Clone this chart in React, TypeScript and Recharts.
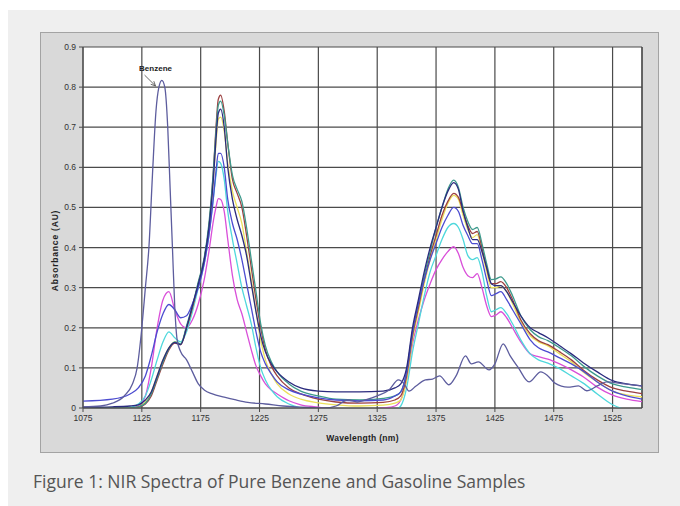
import React from "react";
import { LineChart, Line, XAxis, YAxis, CartesianGrid, ReferenceLine } from "recharts";

// wavelength grid shared by the gasoline samples (nm)
const WL = [
  1075, 1100, 1115, 1122, 1128, 1133, 1138, 1143, 1148, 1153,
  1158, 1163, 1168, 1173, 1178, 1182, 1186, 1188, 1190, 1192,
  1195, 1198, 1202, 1206, 1210, 1214, 1218, 1222, 1226, 1230,
  1235, 1240, 1250, 1260, 1275, 1290, 1310, 1330, 1340, 1345,
  1350, 1355, 1360, 1365, 1370, 1375, 1380, 1385, 1390, 1394,
  1398, 1402, 1406, 1410, 1414, 1418, 1422, 1426, 1430, 1435,
  1440, 1447, 1455, 1462, 1470, 1480, 1490, 1500, 1512, 1525,
  1537, 1550,
];

const MAGENTA = [
  0, 0, 0, 0.005, 0.03, 0.1, 0.2, 0.27, 0.29, 0.245,
  0.21, 0.2, 0.22, 0.26, 0.32, 0.39, 0.47, 0.5, 0.522, 0.52,
  0.49, 0.42, 0.33, 0.27, 0.235, 0.19, 0.145, 0.105, 0.08, 0.06,
  0.045, 0.035, 0.018, 0.008, 0.002, -0.005, -0.005, 0, 0.005, 0.02,
  0.07, 0.16, 0.22, 0.27, 0.31, 0.345, 0.37, 0.39, 0.402, 0.385,
  0.35, 0.33, 0.325, 0.335, 0.3, 0.255, 0.228, 0.232, 0.24, 0.225,
  0.2, 0.165, 0.135, 0.128, 0.122, 0.11, 0.095, 0.078, 0.052, 0.032,
  0.022, 0.016,
];

const BLUE = [
  0.017, 0.022, 0.035, 0.05, 0.08, 0.13, 0.19, 0.235, 0.258, 0.245,
  0.225, 0.23, 0.26, 0.3, 0.36, 0.43, 0.53, 0.59, 0.635, 0.635,
  0.6, 0.52, 0.46, 0.42, 0.37, 0.31, 0.25, 0.19, 0.14, 0.11,
  0.085, 0.065, 0.045, 0.035, 0.025, 0.02, 0.018, 0.02, 0.03, 0.04,
  0.09, 0.19, 0.26, 0.32, 0.37, 0.41, 0.45, 0.48, 0.5, 0.49,
  0.455, 0.43, 0.41, 0.41, 0.37, 0.32, 0.28, 0.285, 0.29, 0.27,
  0.245, 0.21, 0.17, 0.15, 0.14, 0.125, 0.11, 0.092, 0.065, 0.042,
  0.03, 0.022,
];

const CYAN = [
  0, 0, 0.002, 0.01, 0.03, 0.07, 0.12, 0.165, 0.19, 0.175,
  0.165, 0.19, 0.24, 0.3, 0.36, 0.43, 0.53, 0.58, 0.615, 0.61,
  0.57, 0.49, 0.42, 0.36, 0.3, 0.255, 0.21, 0.15, 0.1, 0.07,
  0.045, 0.028, 0.01, 0, -0.01, -0.015, -0.015, -0.01, -0.005, 0.005,
  0.05, 0.14, 0.21, 0.28, 0.34, 0.38, 0.42, 0.45, 0.46, 0.45,
  0.42, 0.38, 0.37, 0.375, 0.34, 0.28, 0.24, 0.245, 0.25, 0.235,
  0.21, 0.17, 0.135, 0.12, 0.112, 0.098, 0.08, 0.062, 0.035, 0.008,
  -0.005, -0.01,
];

const YELLOW = [
  0, 0, 0, 0.003, 0.015, 0.04, 0.08, 0.12, 0.15, 0.165,
  0.16, 0.2, 0.25, 0.31, 0.37, 0.45, 0.58, 0.66, 0.72, 0.725,
  0.69, 0.61, 0.54, 0.5, 0.46, 0.39, 0.32, 0.24, 0.17, 0.12,
  0.085, 0.06, 0.035, 0.022, 0.013, 0.008, 0.005, 0.007, 0.012, 0.02,
  0.07, 0.17, 0.24, 0.31, 0.37, 0.42, 0.47, 0.51, 0.53, 0.52,
  0.48, 0.445, 0.425, 0.432, 0.39, 0.34, 0.3, 0.3, 0.305, 0.29,
  0.26, 0.215, 0.18, 0.165, 0.155, 0.135, 0.115, 0.09, 0.065, 0.042,
  0.033, 0.028,
];

const BROWN = [
  0, 0, 0, 0.002, 0.01, 0.03, 0.07, 0.11, 0.145, 0.162,
  0.158, 0.2, 0.25, 0.31, 0.37, 0.45, 0.6, 0.7, 0.77, 0.78,
  0.74, 0.66, 0.57, 0.535, 0.5, 0.43, 0.35, 0.27, 0.2, 0.145,
  0.105, 0.08, 0.05, 0.035, 0.022, 0.015, 0.012, 0.014, 0.02, 0.03,
  0.08, 0.18, 0.25, 0.32, 0.38, 0.43, 0.48, 0.515, 0.535, 0.525,
  0.49, 0.455, 0.435, 0.44, 0.4, 0.35, 0.31, 0.31, 0.315, 0.3,
  0.27, 0.22, 0.185, 0.168, 0.158, 0.14, 0.12, 0.095, 0.07, 0.05,
  0.042, 0.036,
];

const TEAL = [
  0, 0, 0, 0.003, 0.012, 0.035, 0.075, 0.115, 0.148, 0.165,
  0.16, 0.205, 0.255, 0.315, 0.375, 0.46, 0.6, 0.69, 0.755, 0.765,
  0.73, 0.66, 0.58, 0.545, 0.515, 0.45, 0.37, 0.29, 0.21, 0.155,
  0.115, 0.09, 0.06, 0.042, 0.03, 0.022, 0.02, 0.024, 0.03, 0.04,
  0.09, 0.19, 0.26, 0.33, 0.39, 0.45, 0.5, 0.545, 0.568, 0.55,
  0.5, 0.465, 0.445, 0.45, 0.41, 0.36, 0.32, 0.322, 0.327, 0.31,
  0.28, 0.23, 0.195, 0.178, 0.168, 0.15, 0.13, 0.105, 0.08, 0.06,
  0.052, 0.046,
];

const NAVY = [
  0.002, 0.003, 0.005, 0.008, 0.02, 0.04, 0.08, 0.12, 0.15, 0.163,
  0.158, 0.2, 0.255, 0.31, 0.37, 0.45, 0.58, 0.67, 0.735, 0.745,
  0.7, 0.6, 0.52, 0.47, 0.43, 0.38, 0.31, 0.24, 0.18, 0.14,
  0.11, 0.09, 0.065, 0.05, 0.042, 0.04, 0.04, 0.042, 0.05, 0.06,
  0.1, 0.2, 0.27, 0.34, 0.4, 0.45, 0.5, 0.54, 0.562, 0.545,
  0.49, 0.45, 0.42, 0.42, 0.39, 0.35, 0.31, 0.305, 0.305, 0.29,
  0.265, 0.23, 0.2, 0.188, 0.175, 0.155, 0.135, 0.113, 0.09, 0.068,
  0.06, 0.055,
];

// pure benzene spectrum
const BENZ_WL = [
  1075, 1090, 1100, 1110, 1117, 1121, 1125, 1128, 1131, 1134,
  1137, 1139.5, 1142, 1144.5, 1147, 1149, 1151, 1153, 1155, 1158,
  1163, 1168, 1173, 1178, 1185, 1195, 1205, 1215, 1230, 1245,
  1260, 1280, 1290, 1300, 1308, 1315, 1325, 1335, 1343, 1348,
  1352, 1358, 1366, 1372, 1378, 1386, 1392, 1400, 1405, 1411,
  1420, 1425, 1432, 1438, 1445, 1454, 1464, 1470, 1476, 1487,
  1496, 1503, 1512, 1520, 1535, 1550,
];

const BENZENE = [
  0.003, 0.005, 0.012, 0.03, 0.06, 0.1, 0.2, 0.3, 0.4, 0.58,
  0.74, 0.8, 0.817, 0.8, 0.7, 0.55, 0.4, 0.25, 0.17, 0.14,
  0.12, 0.09, 0.06, 0.045, 0.035, 0.027, 0.02, 0.014, 0.01, 0.005,
  0.002, 0, 0.005, 0.02, 0.015, 0.02, 0.03, 0.045, 0.07, 0.06,
  0.042, 0.055, 0.07, 0.072, 0.08, 0.058, 0.08, 0.13, 0.11, 0.115,
  0.095, 0.11, 0.16, 0.13, 0.1, 0.065, 0.09, 0.08, 0.062, 0.052,
  0.055, 0.043, 0.055, 0.065, 0.06, 0.055,
];

const X_TICKS = [1075, 1125, 1175, 1225, 1275, 1325, 1375, 1425, 1475, 1525];
const Y_TICKS = [0, 0.1, 0.2, 0.3, 0.4, 0.5, 0.6, 0.7, 0.8, 0.9];

const SERIES = [
  { key: "magenta", values: MAGENTA, color: "#d94fd9" },
  { key: "cyan", values: CYAN, color: "#4fd8dc" },
  { key: "yellow", values: YELLOW, color: "#ebe05a" },
  { key: "brown", values: BROWN, color: "#9c4040" },
  { key: "teal", values: TEAL, color: "#3d9a8c" },
  { key: "blue", values: BLUE, color: "#4c4cd0" },
  { key: "navy", values: NAVY, color: "#2b2b7e" },
];

const gasolineRows = WL.map((wl, i) => {
  const row: Record<string, number> = { wl };
  SERIES.forEach((s) => (row[s.key] = s.values[i]));
  return row;
});

const benzeneRows = BENZ_WL.map((wl, i) => ({ wl, benzene: BENZENE[i] }));

const tickStyle = { fontFamily: "Arial, 'Liberation Sans', sans-serif", fontSize: 8.5, fill: "#333" };

const YTitle = (props: any) => {
  const { viewBox } = props;
  const x = viewBox.x + 14;
  const y = viewBox.y + viewBox.height / 2 + 23;
  return (
    <text
      x={x}
      y={y}
      transform={`rotate(-90, ${x}, ${y})`}
      textAnchor="middle"
      dominantBaseline="central"
      fontFamily="Arial, 'Liberation Sans', sans-serif"
      fontSize={8.5}
      fontWeight="bold"
      letterSpacing={0.8}
      fill="#222"
    >
      Absorbance  (AU)
    </text>
  );
};

const BenzeneArrow = (props: any) => {
  const { x1, y1, x2, y2 } = props;
  const ang = Math.atan2(y2 - y1, x2 - x1);
  const len = 5;
  const a1 = ang + Math.PI - 0.45;
  const a2 = ang + Math.PI + 0.45;
  return (
    <g>
      <text
        x={x1 + 11}
        y={y1 - 4.5}
        textAnchor="middle"
        fontFamily="Arial, 'Liberation Sans', sans-serif"
        fontSize={8}
        fontWeight="bold"
        fill="#222"
      >
        Benzene
      </text>
      <line x1={x1} y1={y1} x2={x2} y2={y2} stroke="#444" strokeWidth={0.8} />
      <path
        d={`M${x2 + len * Math.cos(a1)},${y2 + len * Math.sin(a1)} L${x2},${y2} L${x2 + len * Math.cos(a2)},${y2 + len * Math.sin(a2)}`}
        fill="none"
        stroke="#444"
        strokeWidth={0.8}
      />
    </g>
  );
};

export default function App() {
  return (
    <div style={{ position: "absolute", left: 0, top: 0, width: 680, height: 506, background: "#fff", overflow: "hidden" }}>
      <div style={{ position: "absolute", left: 8, top: 10, width: 672, height: 496, background: "#efefef" }} />
      <div
        style={{
          position: "absolute",
          left: 40,
          top: 32,
          width: 617,
          height: 419,
          background: "#d9d9d9",
          border: "1px solid #a3a3a3",
        }}
      >
        <LineChart
          width={617}
          height={419}
          data={gasolineRows}
          margin={{ top: 14, right: 16, bottom: 0, left: 0 }}
        >
          <CartesianGrid stroke="#4a4a4a" strokeWidth={1.2} fill="#ffffff" />
          <XAxis
            dataKey="wl"
            type="number"
            domain={[1075, 1550]}
            ticks={X_TICKS}
            allowDataOverflow
            height={44}
            tick={tickStyle}
            tickSize={4}
            tickMargin={3}
            stroke="#4a4a4a"
            label={{
              value: "Wavelength (nm)",
              position: "insideBottom",
              offset: 11,
              style: {
                fontFamily: "Arial, 'Liberation Sans', sans-serif",
                fontSize: 8.5,
                fontWeight: "bold",
                fill: "#222",
                letterSpacing: 0.3,
              },
            }}
          />
          <YAxis
            type="number"
            domain={[0, 0.9]}
            ticks={Y_TICKS}
            allowDataOverflow
            width={42}
            tick={tickStyle}
            tickSize={4}
            tickMargin={3}
            stroke="#4a4a4a"
            tickFormatter={(v: number) => (v === 0 ? "0" : v.toFixed(1))}
            label={<YTitle />}
          />
          <ReferenceLine x={1550} stroke="#4a4a4a" strokeWidth={1.2} />
          {SERIES.map((s) => (
            <Line
              key={s.key}
              dataKey={s.key}
              type="monotone"
              stroke={s.color}
              strokeWidth={1.3}
              dot={false}
              isAnimationActive={false}
            />
          ))}
          <Line
            data={benzeneRows}
            dataKey="benzene"
            type="monotone"
            stroke="#5d5d9e"
            strokeWidth={1.3}
            dot={false}
            isAnimationActive={false}
          />
          <ReferenceLine
            segment={[
              { x: 1127.3, y: 0.83 },
              { x: 1136.6, y: 0.803 },
            ]}
            shape={<BenzeneArrow />}
          />
        </LineChart>
      </div>
      <div
        style={{
          position: "absolute",
          left: 33,
          top: 469,
          fontFamily: "'Open Sans', sans-serif",
          fontSize: 17.5,
          color: "#555",
          whiteSpace: "nowrap",
        }}
      >
        Figure 1: NIR Spectra of Pure Benzene and Gasoline Samples
      </div>
    </div>
  );
}
